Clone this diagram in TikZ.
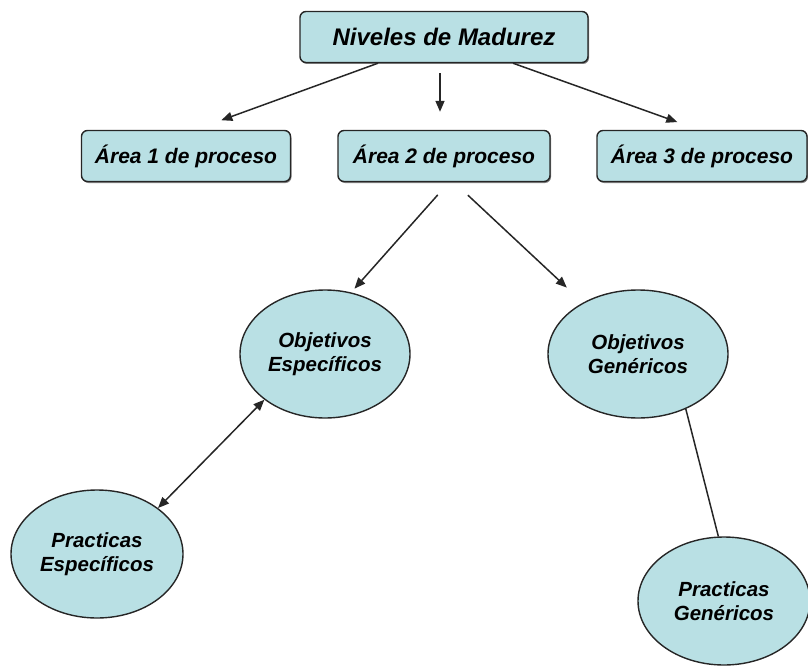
\documentclass[tikz,border=0pt]{standalone}
\usepackage{fontspec}
\setmainfont{Liberation Sans}
\usetikzlibrary{arrows.meta,shapes.geometric,shadows}
\definecolor{paleteal}{HTML}{B9E0E4}
\definecolor{edge}{HTML}{262626}
\begin{document}
\begin{tikzpicture}[x=1pt,y=-1pt,
  box/.style={draw=edge, line width=1.4pt, fill=paleteal, rounded corners=6pt,
    minimum height=51pt, inner sep=0pt,
    drop shadow={shadow xshift=1pt, shadow yshift=-1.5pt, fill=black!50, opacity=1},
    font=\fontsize{21}{24}\selectfont\bfseries\itshape},
  oval/.style={ellipse, draw=edge, line width=1.4pt, fill=paleteal, inner sep=0pt,
    align=center, font=\fontsize{20.5}{24}\selectfont\bfseries\itshape},
  arr/.style={draw=edge, line width=1.5pt, -{Triangle[length=11pt,width=9pt]}},
  dblarr/.style={draw=edge, line width=1.5pt, {Triangle[length=11pt,width=9pt]}-{Triangle[length=11pt,width=9pt]}},
  plain/.style={draw=edge, line width=1.5pt}
]
\useasboundingbox (0,0) rectangle (808,666);

% boxes
\node[box, minimum width=288pt, font=\fontsize{24}{26}\selectfont\bfseries\itshape] (top) at (444,37) {Niveles de Madurez};
\node[box, minimum width=209pt] (a1) at (186,156) {Área 1 de proceso};
\node[box, minimum width=212pt] (a2) at (444,156) {Área 2 de proceso};
\node[box, minimum width=210pt] (a3) at (702,156) {Área 3 de proceso};

% ovals
\node[oval, minimum width=170pt, minimum height=128pt] (oe) at (325,354) {Objetivos\\Específicos};
\node[oval, minimum width=180pt, minimum height=128pt] (og) at (638,354) {Objetivos\\Genéricos};
\node[oval, minimum width=172pt, minimum height=128pt] (pe) at (97,554) {Practicas\\Específicos};
\node[oval, minimum width=172pt, minimum height=128pt] (pg) at (724,601) {Practicas\\Genéricos};

% connectors
\draw[arr, shorten >=28pt] ([xshift=-66pt]top.south) -- ([xshift=9pt]a1.north);
\draw[arr, shorten <=10pt, shorten >=18pt] ([xshift=-4pt]top.south) -- ([xshift=-4pt]a2.north);
\draw[arr, shorten >=23pt] ([xshift=69pt]top.south) -- ([xshift=-3pt]a3.north);

\draw[arr, shorten <=17pt, shorten >=5pt] ([xshift=5pt]a2.south) -- (oe.67);
\draw[arr, shorten <=19pt, shorten >=22pt] ([xshift=10pt]a2.south) -- (og.137);

\draw[dblarr] (oe.217.7) -- (pe.37.6);
\draw[plain] (og.-49) -- (pg.95);
\end{tikzpicture}
\end{document}
